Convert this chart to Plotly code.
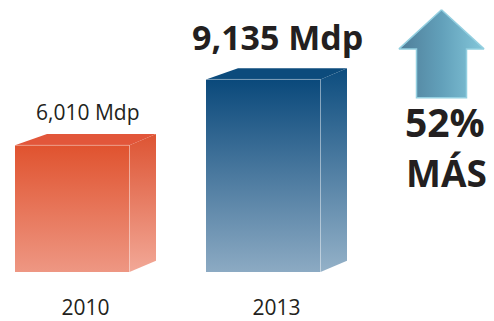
import plotly.graph_objects as go

# ---- data ----
years = ["2010", "2013"]
values = [6010, 9135]
value_labels = ["6,010 Mdp", "9,135 Mdp"]
increase_label = "52%"
increase_word = "MÁS"

# ---- style ----
W, H = 494, 321
MB = 43                      # bottom margin (room for year labels)
PLOT_H = H - MB
PX_PER_CAT = 191.0
X_LO = -85.5 / PX_PER_CAT
X_HI = X_LO + W / PX_PER_CAT
Y_MAX = 12900.0
YU = Y_MAX / PLOT_H          # data units per pixel (y)
XU = 1.0 / PX_PER_CAT        # data units per pixel (x)

FRONT_L = 70.5 * XU
FRONT_R = 44.0 * XU
BACK_L = 32.0 * XU
BACK_R = 26.5 * XU
DEPTH_Y = 11.5 * YU

front_cols = [("#EE9783", "#E0532F"), ("#8CAAC3", "#0A497B")]
side_cols = [("#F2A897", "#DD5433"), ("#94B1C8", "#0C4C7E")]
top_cols = ["#E2563A", "#0C4B7C"]
txt = "#231F20"
FONT = "Open Sans"

fig = go.Figure()

for i, (yr, v) in enumerate(zip(years, values)):
    c = i
    xl, xr = c - FRONT_L, c + FRONT_R
    # right side face
    fig.add_trace(go.Scatter(
        x=[xr, xr + BACK_R, xr + BACK_R, xr, xr],
        y=[0, DEPTH_Y, v + DEPTH_Y, v, 0],
        fill="toself", mode="lines", line=dict(width=0),
        fillgradient=dict(type="vertical",
                          colorscale=[[0, side_cols[i][0]], [1, side_cols[i][1]]]),
        hoverinfo="skip", showlegend=False))
    # top face
    fig.add_trace(go.Scatter(
        x=[xl, xl + BACK_L, xr + BACK_R, xr, xl],
        y=[v, v + DEPTH_Y, v + DEPTH_Y, v, v],
        fill="toself", mode="lines", line=dict(width=0),
        fillcolor=top_cols[i], hoverinfo="skip", showlegend=False))
    # front face
    fig.add_trace(go.Scatter(
        x=[xl, xr, xr, xl, xl],
        y=[0, 0, v, v, 0],
        fill="toself", mode="lines", line=dict(width=0),
        fillgradient=dict(type="vertical",
                          colorscale=[[0, front_cols[i][0]], [1, front_cols[i][1]]]),
        hoverinfo="skip", showlegend=False))
    # subtle light edge between front and side
    fig.add_trace(go.Scatter(
        x=[xr, xr, xl], y=[0, v, v], mode="lines",
        line=dict(color="rgba(255,255,255,0.3)", width=1),
        hoverinfo="skip", showlegend=False))

# value labels
fig.add_annotation(x=0, y=values[0], text=value_labels[0], showarrow=False,
                   xanchor="center", yanchor="bottom", yshift=17, xshift=2,
                   font=dict(family=FONT, size=21, color=txt))
fig.add_annotation(x=1, y=values[1], text="<b>" + value_labels[1] + "</b>", showarrow=False,
                   xanchor="center", yanchor="bottom", yshift=17, xshift=1,
                   font=dict(family=FONT, size=34, color=txt))

# arrow (decoration) on pixel-like overlay axes
ax = [441.5, 484, 466.5, 466.5, 416.5, 416.5, 399, 441.5]
ay = [10, 50, 50, 100, 100, 50, 50, 10]
fig.add_trace(go.Scatter(
    x=ax, y=ay, xaxis="x2", yaxis="y2", fill="toself", mode="lines",
    line=dict(color="#93CFE0", width=1.5),
    fillgradient=dict(type="horizontal",
                      colorscale=[[0, "#4F7E99"], [0.5, "#62A0BA"], [1, "#84C7DA"]]),
    hoverinfo="skip", showlegend=False))

fig.add_annotation(x=445, y=153, xref="x2", yref="y2", text="<b>" + increase_label + "</b>",
                   showarrow=False, xanchor="center", yanchor="bottom",
                   font=dict(family=FONT, size=39, color=txt))
fig.add_annotation(x=446, y=204, xref="x2", yref="y2", text="<b>" + increase_word + "</b>",
                   showarrow=False, xanchor="center", yanchor="bottom",
                   font=dict(family=FONT, size=37, color=txt))

fig.update_layout(
    width=W, height=H,
    margin=dict(l=0, r=0, t=0, b=MB),
    paper_bgcolor="white", plot_bgcolor="white",
    xaxis=dict(range=[X_LO, X_HI], tickvals=[0, 1], ticktext=years,
               showgrid=False, zeroline=False, showline=False, ticks="",
               ticklabelstandoff=21,
               tickfont=dict(family=FONT, size=21, color=txt), fixedrange=True),
    yaxis=dict(range=[0, Y_MAX], visible=False, fixedrange=True),
    xaxis2=dict(range=[0, W], overlaying="x", anchor="y2", visible=False),
    yaxis2=dict(range=[PLOT_H, 0], overlaying="y", anchor="x2", visible=False),
    showlegend=False,
)

fig.write_html("out.html", config={"displayModeBar": False},
               post_script="document.body.style.margin='0';document.body.style.overflow='hidden';")
